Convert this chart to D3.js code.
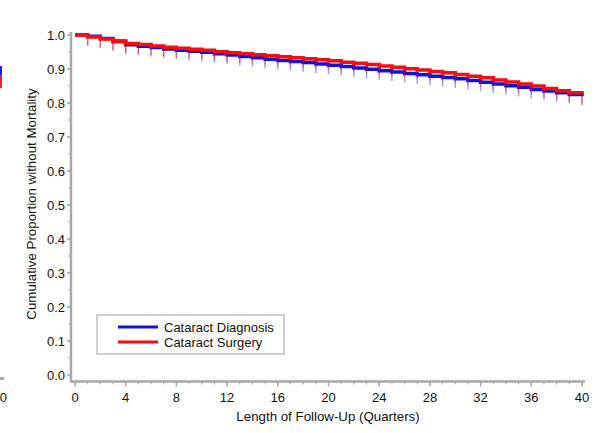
<!DOCTYPE html>
<html>
<head>
<meta charset="utf-8">
<script src="https://cdn.jsdelivr.net/npm/d3@7"></script>
<style>
  body { margin: 0; background: #fff; }
  svg { display: block; font-family: "Liberation Sans", Arial, sans-serif; }
</style>
</head>
<body>
<svg width="602" height="433"></svg>
<script>
// quarters 0..40
const quarters = d3.range(0, 41);
const diagnosis = [1.000, 0.996, 0.990, 0.982, 0.971, 0.967, 0.963, 0.959, 0.955, 0.952,
  0.949, 0.945, 0.941, 0.937, 0.933, 0.929, 0.925, 0.922, 0.919, 0.915,
  0.911, 0.907, 0.903, 0.899, 0.895, 0.891, 0.887, 0.883, 0.879, 0.875,
  0.871, 0.866, 0.861, 0.856, 0.851, 0.846, 0.840, 0.835, 0.830, 0.825, 0.820];
const surgery = [1.000, 0.994, 0.988, 0.980, 0.975, 0.972, 0.968, 0.964, 0.961, 0.958,
  0.955, 0.951, 0.948, 0.945, 0.942, 0.939, 0.936, 0.933, 0.930, 0.927,
  0.924, 0.920, 0.917, 0.913, 0.909, 0.905, 0.901, 0.897, 0.893, 0.889,
  0.884, 0.879, 0.874, 0.868, 0.862, 0.856, 0.850, 0.843, 0.836, 0.830, 0.826];
const seriesNames = ["Cataract Diagnosis", "Cataract Surgery"];
const seriesColors = ["#1010e0", "#ff0a0a"];
const xTicks = d3.range(0, 41, 4);
const yTicks = d3.range(0, 11).map(d => d / 10);

const svg = d3.select("svg");
const x = d3.scaleLinear().domain([0, 40]).range([75, 582]);
const y = d3.scaleLinear().domain([0, 1]).range([375, 35]);
const axisColor = "#a3a8a8";

// fragments of the neighbouring chart at the left edge
svg.append("rect").attr("x", 0).attr("y", 66).attr("width", 2).attr("height", 9).attr("fill", "#2020e0");
svg.append("rect").attr("x", 0).attr("y", 75).attr("width", 2).attr("height", 13).attr("fill", "#ff2020");
svg.append("rect").attr("x", 0).attr("y", 377).attr("width", 4).attr("height", 3).attr("fill", axisColor);
svg.append("text").attr("x", 7).attr("y", 402).attr("text-anchor", "end")
  .attr("font-size", 13).attr("fill", "#111").text("0");

// y axis
const yAxis = svg.append("g").attr("transform", "translate(71,0)");
yAxis.append("line").attr("y1", 32).attr("y2", 382).attr("stroke", axisColor).attr("stroke-width", 2.5);
yAxis.selectAll(".ymin").data(d3.range(0, 20).map(d => d / 20 + 0.05))
  .join("line").attr("x1", -3).attr("x2", 0)
  .attr("y1", d => y(d)).attr("y2", d => y(d))
  .attr("stroke", axisColor).attr("stroke-width", 1);
yAxis.selectAll(".ytick").data(yTicks).join("line")
  .attr("x1", -4).attr("x2", 0).attr("y1", d => y(d)).attr("y2", d => y(d))
  .attr("stroke", axisColor).attr("stroke-width", 1.5);
yAxis.selectAll("text").data(yTicks).join("text")
  .attr("x", -6).attr("y", d => y(d)).attr("dy", "0.36em")
  .attr("text-anchor", "end").attr("font-size", 13).attr("fill", "#111")
  .text(d3.format(".1f"));

// x axis
const xAxis = svg.append("g").attr("transform", "translate(0,381.5)");
xAxis.append("line").attr("x1", 70).attr("x2", 585).attr("stroke", axisColor).attr("stroke-width", 2.5);
xAxis.selectAll(".xmin").data(quarters).join("line")
  .attr("x1", d => x(d)).attr("x2", d => x(d)).attr("y1", 0).attr("y2", 3)
  .attr("stroke", axisColor).attr("stroke-width", 1);
xAxis.selectAll(".xtick").data(xTicks).join("line")
  .attr("x1", d => x(d)).attr("x2", d => x(d)).attr("y1", 0).attr("y2", 5)
  .attr("stroke", axisColor).attr("stroke-width", 1.5);
xAxis.selectAll("text").data(xTicks).join("text")
  .attr("x", d => x(d)).attr("y", 20.5).attr("text-anchor", "middle")
  .attr("font-size", 13).attr("fill", "#111").text(d => d);

// axis titles
svg.append("text").attr("x", 328).attr("y", 421).attr("text-anchor", "middle")
  .attr("font-size", 13.3).attr("fill", "#111").text("Length of Follow-Up (Quarters)");
svg.append("text").attr("transform", "translate(36,204) rotate(-90)")
  .attr("text-anchor", "middle").attr("font-size", 13.3).attr("fill", "#111")
  .text("Cumulative Proportion without Mortality");

// survival step curves
const step = d3.line().x(d => x(d[0])).y(d => y(d[1])).curve(d3.curveStepAfter);
[diagnosis, surgery].forEach((vals, i) => {
  const pts = quarters.map((q, j) => [q, vals[j]]);
  const g = svg.append("g");
  g.append("path").attr("d", step(pts)).attr("fill", "none")
    .attr("stroke", seriesColors[i]).attr("stroke-width", 3.5);
  // censor ticks
  g.selectAll("line").data(pts.slice(1)).join("line")
    .attr("x1", d => x(d[0])).attr("x2", d => x(d[0]))
    .attr("y1", d => y(d[1])).attr("y2", d => y(d[1]) + 9)
    .attr("stroke", seriesColors[i]).attr("stroke-opacity", 0.4).attr("stroke-width", 1.5);
});

// legend
const legend = svg.append("g");
legend.append("rect").attr("x", 97).attr("y", 315).attr("width", 187).attr("height", 39)
  .attr("fill", "#fff").attr("stroke", "#cfcfcf").attr("stroke-width", 2);
seriesNames.forEach((name, i) => {
  const ly = 327 + i * 15;
  legend.append("line").attr("x1", 118).attr("x2", 158).attr("y1", ly).attr("y2", ly)
    .attr("stroke", seriesColors[i]).attr("stroke-width", 3);
  legend.append("text").attr("x", 164).attr("y", ly).attr("dy", "0.36em")
    .attr("font-size", 13).attr("fill", "#111").text(name);
});
</script>
</body>
</html>
